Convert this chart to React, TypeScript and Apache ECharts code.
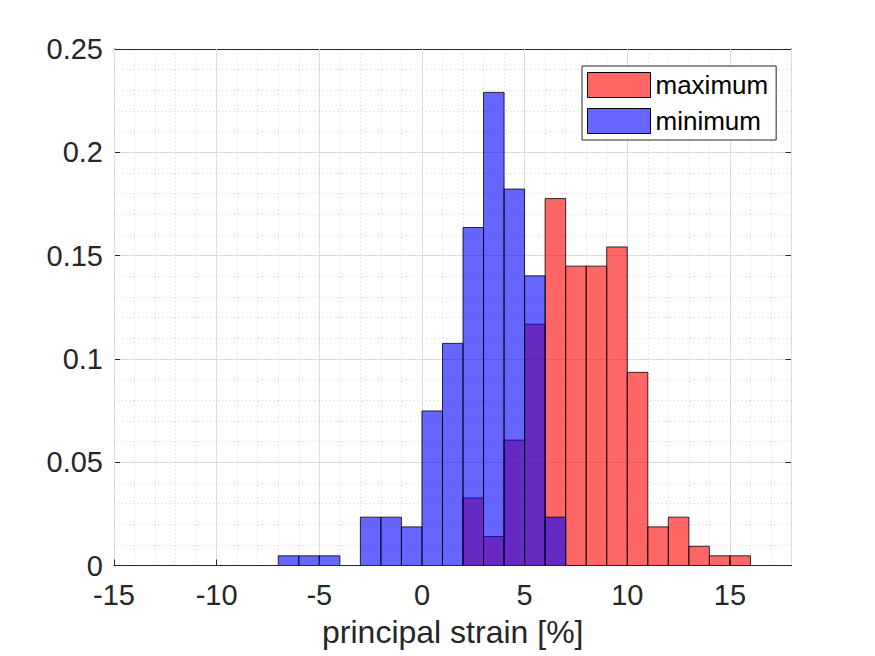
import React, { useEffect, useRef } from "react";
import * as echarts from "echarts";

// Histogram bins (left edges, width 1) and normalized heights
const BIN_WIDTH = 1;
const maxBinStarts = [2, 3, 4, 5, 6, 7, 8, 9, 10, 11, 12, 13, 14, 15];
const maxValues = [0.0327, 0.014, 0.0607, 0.1168, 0.1776, 0.1449, 0.1449, 0.1542, 0.0935, 0.0187, 0.0234, 0.0093, 0.0047, 0.0047];
const minBinStarts = [-7, -6, -5, -4, -3, -2, -1, 0, 1, 2, 3, 4, 5, 6];
const minValues = [0.0047, 0.0047, 0.0047, 0, 0.0234, 0.0234, 0.0187, 0.0748, 0.1075, 0.1636, 0.229, 0.1822, 0.1402, 0.0234];

const seriesNames = ["maximum", "minimum"];
const xLabel = "principal strain [%]";
const X_MIN = -15, X_MAX = 18, X_STEP = 5;
const Y_MIN = 0, Y_MAX = 0.25, Y_STEP = 0.05;

const FONT = "'Liberation Sans', Arial, Helvetica, sans-serif";
const AX = "#262626";

function makeRender(fill: string) {
  return (params: any, api: any) => {
    const x0 = api.value(0);
    const v = api.value(1);
    const p0 = api.coord([x0, v]);
    const p1 = api.coord([x0 + BIN_WIDTH, 0]);
    return {
      type: "rect",
      shape: { x: p0[0], y: p0[1], width: p1[0] - p0[0], height: p1[1] - p0[1] },
      style: { fill, stroke: "#000", lineWidth: 0.8 },
    };
  };
}

export default function App() {
  const ref = useRef<HTMLDivElement>(null);
  useEffect(() => {
    const chart = echarts.init(ref.current!, null, { renderer: "svg" });
    const axisTick = { show: true, inside: true, length: 6, lineStyle: { color: AX, width: 1 } };
    const axisLine = { show: true, onZero: false, lineStyle: { color: AX, width: 1 } };
    const minorLine = { color: "#d2d2d2", width: 1, type: [1, 3] };
    chart.setOption({
      animation: false,
      backgroundColor: "#ffffff",
      grid: { left: 114, top: 49, width: 677.5, height: 516.5, containLabel: false },
      legend: {
        left: 582,
        top: 66,
        orient: "vertical",
        padding: [6, 8, 6, 5],
        itemGap: 10,
        itemWidth: 63,
        itemHeight: 25,
        backgroundColor: "#ffffff",
        borderColor: AX,
        borderWidth: 1,
        borderRadius: 0,
        selectedMode: false,
        textStyle: { fontFamily: FONT, fontSize: 26, color: "#000", lineHeight: 19, padding: [6, 0, 0, 0] },
        data: [
          { name: seriesNames[0], icon: "rect", itemStyle: { color: "#ff6666", borderColor: "#000", borderWidth: 1 } },
          { name: seriesNames[1], icon: "rect", itemStyle: { color: "#6666ff", borderColor: "#000", borderWidth: 1 } },
        ],
      },
      xAxis: [
        {
          type: "value",
          position: "bottom",
          min: X_MIN,
          max: X_MAX,
          interval: X_STEP,
          name: xLabel,
          nameLocation: "middle",
          nameGap: 50,
          nameTextStyle: { fontFamily: FONT, fontSize: 32, color: AX },
          axisLine,
          axisTick,
          axisLabel: { show: true, showMaxLabel: false, fontFamily: FONT, fontSize: 29, color: AX, margin: 15 },
          splitLine: { show: true, lineStyle: { color: "#dedede", width: 1 } },
          z: 2,
        },
        {
          type: "value",
          position: "top",
          min: X_MIN,
          max: X_MAX,
          interval: X_STEP,
          axisLine,
          axisTick,
          axisLabel: { show: false },
          splitLine: { show: false },
        },
        {
          type: "value",
          position: "bottom",
          min: X_MIN,
          max: X_MAX,
          interval: 1,
          axisLine: { show: false, onZero: false },
          axisTick: { show: false },
          axisLabel: { show: false },
          splitLine: { show: true, lineStyle: minorLine },
          z: 0,
        },
      ],
      yAxis: [
        {
          type: "value",
          position: "left",
          min: Y_MIN,
          max: Y_MAX,
          interval: Y_STEP,
          axisLine,
          axisTick,
          axisLabel: { show: true, fontFamily: FONT, fontSize: 29, color: AX, margin: 11 },
          splitLine: { show: true, lineStyle: { color: "#dedede", width: 1 } },
          minorTick: { show: false, splitNumber: 5 },
          minorSplitLine: { show: true, lineStyle: minorLine },
        },
        {
          type: "value",
          position: "right",
          min: Y_MIN,
          max: Y_MAX,
          interval: Y_STEP,
          axisLine,
          axisTick,
          axisLabel: { show: false },
          splitLine: { show: false },
        },
      ],
      series: [
        {
          name: seriesNames[0],
          type: "custom",
          xAxisIndex: 0,
          yAxisIndex: 0,
          itemStyle: { color: "rgba(255,0,0,0.6)" },
          encode: { x: 0, y: 1 },
          data: maxBinStarts.map((b, i) => [b, maxValues[i]]),
          renderItem: makeRender("rgba(255,0,0,0.6)"),
        },
        {
          name: seriesNames[1],
          type: "custom",
          xAxisIndex: 0,
          yAxisIndex: 0,
          itemStyle: { color: "rgba(0,0,255,0.6)" },
          encode: { x: 0, y: 1 },
          data: minBinStarts.map((b, i) => [b, minValues[i]]),
          renderItem: makeRender("rgba(0,0,255,0.6)"),
        },
      ],
    });
    return () => chart.dispose();
  }, []);
  return (
    <div
      ref={ref}
      style={{ position: "fixed", left: 0, top: 0, width: 875, height: 656, background: "#fff" }}
    />
  );
}
